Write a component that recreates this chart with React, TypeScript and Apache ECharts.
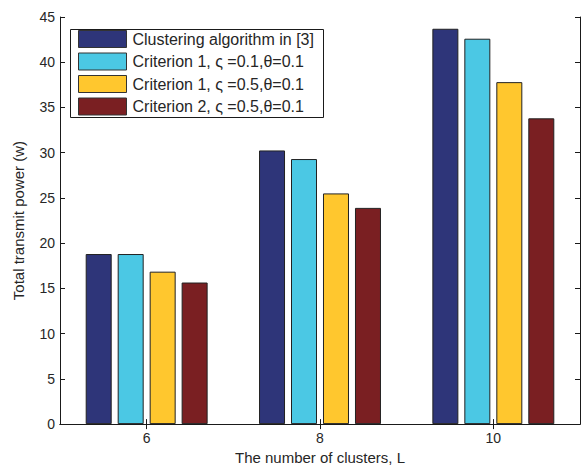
import React, { useEffect, useRef } from "react";
import * as echarts from "echarts";

const categories = ["6", "8", "10"];
const seriesNames = [
  "Clustering algorithm in [3]",
  "Criterion 1, ς =0.1,θ=0.1",
  "Criterion 1, ς =0.5,θ=0.1",
  "Criterion 2, ς =0.5,θ=0.1",
];
const clusteringValues = [18.8, 30.25, 43.7];
const crit1aValues = [18.8, 29.3, 42.6];
const crit1bValues = [16.85, 25.5, 37.8];
const crit2Values = [15.65, 23.9, 33.8];
const seriesColors = ["#2E3579", "#4BC8E4", "#FFC72E", "#7A1F22"];

const FONT = "Liberation Sans, Arial, sans-serif";
const TXT = "#262626";

export default function App() {
  const ref = useRef<HTMLDivElement>(null);
  useEffect(() => {
    if (!ref.current) return;
    const chart = echarts.init(ref.current, null, { renderer: "svg" });
    const data = [clusteringValues, crit1aValues, crit1bValues, crit2Values];
    const axisLine = { show: true, lineStyle: { color: "#1a1a1a", width: 1 } };
    const tick = { show: true, inside: true, length: 5, lineStyle: { color: "#1a1a1a" } };
    chart.setOption({
      animation: false,
      grid: { left: 60, right: 3, top: 17, bottom: 40, containLabel: false },
      legend: {
        orient: "vertical",
        left: 78,
        top: 30,
        padding: 0,
        itemWidth: 48,
        itemHeight: 17,
        itemGap: 4.5,
        icon: "rect",
        selectedMode: false,
        data: seriesNames.map((n, i) => ({
          name: n,
          itemStyle: { color: seriesColors[i], borderColor: "#333", borderWidth: 1 },
        })),
        textStyle: { fontFamily: FONT, fontSize: 16, color: TXT, padding: [0, 0, 0, 1] },
      },
      graphic: [
        {
          type: "rect",
          left: 68,
          top: 27,
          shape: { width: 253, height: 88 },
          style: { fill: "none", stroke: "#1a1a1a", lineWidth: 1 },
          z: 100,
        },
      ],
      xAxis: [
        {
          type: "category",
          data: categories,
          position: "bottom",
          axisLine,
          axisTick: { ...tick, alignWithLabel: true },
          axisLabel: { fontFamily: FONT, fontSize: 14, color: TXT, margin: 7 },
          name: "The number of clusters, L",
          nameLocation: "middle",
          nameGap: 24,
          nameTextStyle: { fontFamily: FONT, fontSize: 15, color: TXT, verticalAlign: "top" },
        },
        {
          type: "category",
          data: categories,
          position: "top",
          axisLine,
          axisTick: { ...tick, alignWithLabel: true },
          axisLabel: { show: false },
        },
      ],
      yAxis: [
        {
          type: "value",
          min: 0,
          max: 45,
          interval: 5,
          position: "left",
          axisLine,
          axisTick: tick,
          splitLine: { show: false },
          axisLabel: { fontFamily: FONT, fontSize: 14, color: TXT, margin: 5 },
          name: "Total transmit power (w)",
          nameLocation: "middle",
          nameGap: 34,
          nameTextStyle: { fontFamily: FONT, fontSize: 15, color: TXT },
        },
        {
          type: "value",
          min: 0,
          max: 45,
          interval: 5,
          position: "right",
          axisLine,
          axisTick: tick,
          splitLine: { show: false },
          axisLabel: { show: false },
        },
      ],
      series: seriesNames.map((n, i) => ({
        name: n,
        type: "bar",
        data: data[i],
        barWidth: 26,
        barGap: "23%",
        itemStyle: {
          color: seriesColors[i],
          borderColor: "#222",
          borderWidth: 1,
        },
      })),
    });
    return () => chart.dispose();
  }, []);
  return (
    <div
      ref={ref}
      style={{ position: "fixed", left: 0, top: 0, width: 583, height: 470, background: "#fff" }}
    />
  );
}
